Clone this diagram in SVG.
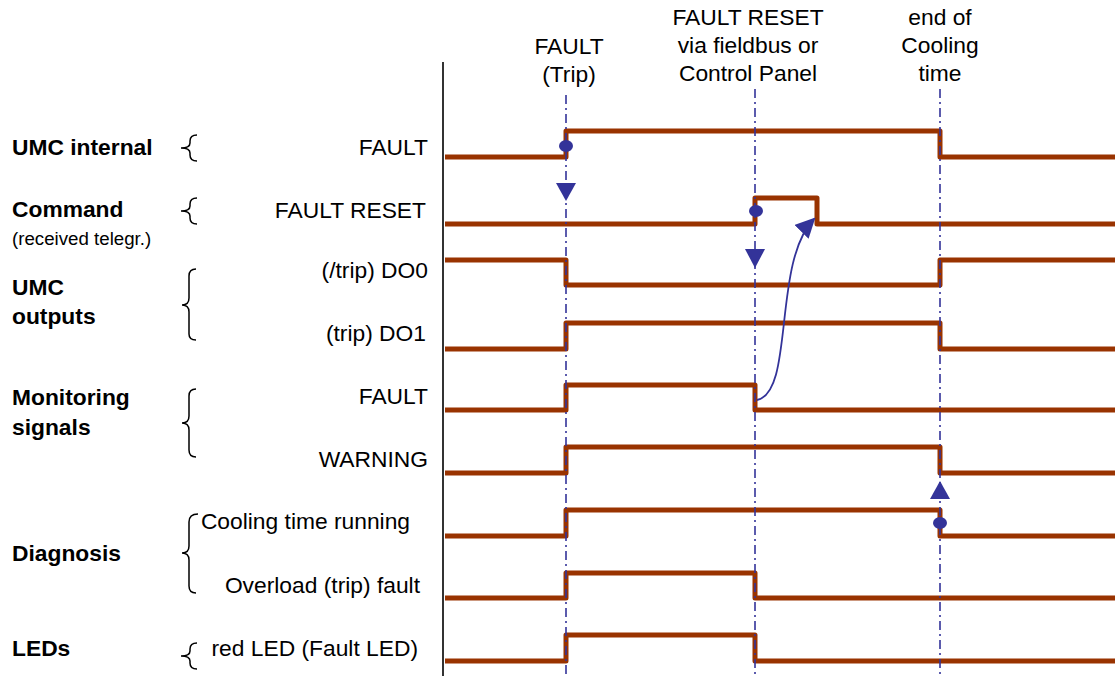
<svg xmlns="http://www.w3.org/2000/svg" width="1115" height="676" viewBox="0 0 1115 676">
<defs>
<style>
text{font-family:"Liberation Sans",Arial,sans-serif;font-size:22.8px;fill:#000}
.b{font-weight:bold}
.s{font-size:18.7px}
.r{text-anchor:end}
.m{text-anchor:middle}
.sig{fill:none;stroke:#993300;stroke-width:5;stroke-linejoin:round}
.dd{stroke:#333399;stroke-width:1.6;stroke-dasharray:9 4 2 4;fill:none}
.br{fill:none;stroke:#000;stroke-width:1.5}
.bl{fill:#333399}
</style>
<marker id="ah" viewBox="0 0 10 10" refX="9" refY="5" markerWidth="20" markerHeight="20" markerUnits="userSpaceOnUse" orient="auto">
<path d="M0,0 L10,5 L0,10 z" fill="#333399"/>
</marker>
</defs>
<rect width="1115" height="676" fill="#fff"/>

<g id="axis"><line x1="443" y1="62" x2="443" y2="676" stroke="#333" stroke-width="2"/></g>

<g id="top-labels">
<text class="m" x="569" y="54">FAULT</text>
<text class="m" x="569" y="82">(Trip)</text>
<text class="m" x="748" y="25">FAULT RESET</text>
<text class="m" x="748" y="53">via fieldbus or</text>
<text class="m" x="748" y="81">Control Panel</text>
<text class="m" x="940" y="25">end of</text>
<text class="m" x="940" y="53">Cooling</text>
<text class="m" x="940" y="81">time</text>
</g>

<g id="group-labels">
<text class="b" x="12" y="155">UMC internal</text>
<text class="b" x="12" y="217">Command</text>
<text class="s" x="12" y="245">(received telegr.)</text>
<text class="b" x="12" y="295">UMC</text>
<text class="b" x="12" y="324">outputs</text>
<text class="b" x="12" y="405">Monitoring</text>
<text class="b" x="12" y="435">signals</text>
<text class="b" x="12" y="561">Diagnosis</text>
<text class="b" x="12" y="656">LEDs</text>
</g>

<g id="braces">
<path class="br" d="M197,135 Q190,135 190,141 L190,143 Q190,148 181,148 Q190,148 190,153 L190,155 Q190,161 197,161"/>
<path class="br" d="M197,198 Q190,198 190,204 L190,206 Q190,211 181,211 Q190,211 190,216 L190,218 Q190,224 197,224"/>
<path class="br" d="M196,269 Q189,269 189,276 L189,298 Q189,305 182,305 Q189,305 189,312 L189,334 Q189,340 196,340"/>
<path class="br" d="M196,389 Q189,389 189,396 L189,416 Q189,423 182,423 Q189,423 189,430 L189,450 Q189,457 196,457"/>
<path class="br" d="M198,514 Q189,514 189,522 L189,546 Q189,553 182,553 Q189,553 189,560 L189,586 Q189,593 196,593"/>
<path class="br" d="M197,643 Q190,643 190,649 L190,651 Q190,656 181,656 Q190,656 190,661 L190,663 Q190,669 197,669"/>
</g>

<g id="signal-labels">
<text class="r" x="428" y="155">FAULT</text>
<text class="r" x="426" y="218">FAULT RESET</text>
<text class="r" x="428" y="278">(/trip) DO0</text>
<text class="r" x="426" y="341">(trip) DO1</text>
<text class="r" x="428" y="404">FAULT</text>
<text class="r" x="428" y="467">WARNING</text>
<text class="r" x="410" y="529">Cooling time running</text>
<text class="r" x="420" y="593">Overload (trip) fault</text>
<text class="r" x="418" y="656">red LED (Fault LED)</text>
</g>

<g id="signals">
<path id="s-fault" class="sig" d="M445,157 H566 V131 H940 V157 H1115"/>
<path id="s-reset" class="sig" d="M445,224 H755 V198 H817 V224 H1115"/>
<path id="s-do0" class="sig" d="M445,260 H566 V285 H940 V260 H1115"/>
<path id="s-do1" class="sig" d="M445,349 H566 V323 H940 V349 H1115"/>
<path id="s-mfault" class="sig" d="M445,410 H566 V385 H755 V410 H1115"/>
<path id="s-warn" class="sig" d="M445,473 H566 V447 H940 V473 H1115"/>
<path id="s-cool" class="sig" d="M445,536 H566 V510 H940 V536 H1115"/>
<path id="s-ovl" class="sig" d="M445,598 H566 V573 H755 V598 H1115"/>
<path id="s-led" class="sig" d="M445,661 H566 V635 H755 V661 H1115"/>
</g>

<g id="connectors">
<line class="dd" x1="566" y1="95" x2="566" y2="676"/>
<line class="dd" x1="755" y1="89" x2="755" y2="676"/>
<line class="dd" x1="940" y1="89" x2="940" y2="676"/>
<ellipse class="bl" cx="566" cy="146" rx="7" ry="6"/>
<ellipse class="bl" cx="756" cy="211" rx="7" ry="6"/>
<ellipse class="bl" cx="940" cy="523" rx="7" ry="6"/>
<path class="bl" d="M556,183 L576,183 L566,201 z"/>
<path class="bl" d="M745,249 L765,249 L755,268 z"/>
<path class="bl" d="M930,499 L950,499 L940,481 z"/>
<path d="M757,400 C795,392 772,262 814,219" fill="none" stroke="#333399" stroke-width="1.8" marker-end="url(#ah)"/>
</g>
</svg>
